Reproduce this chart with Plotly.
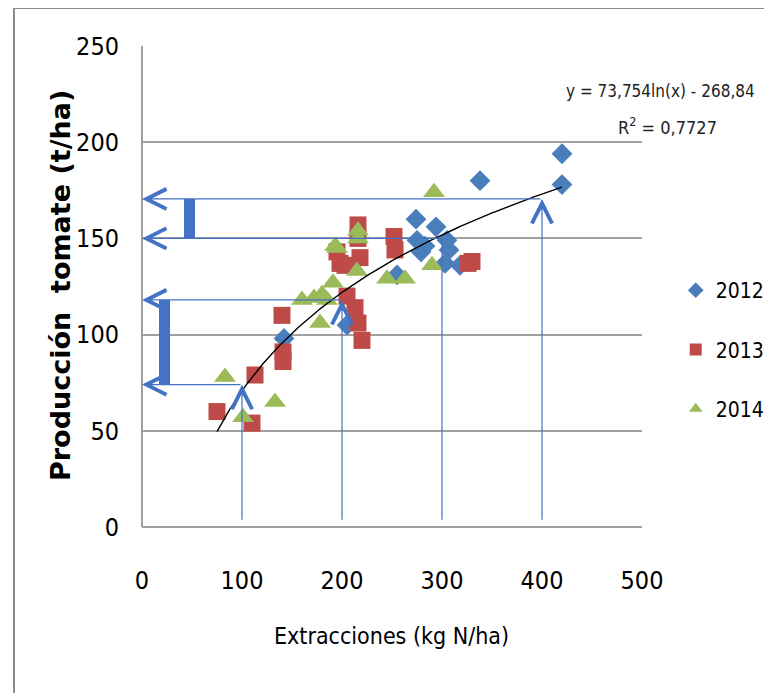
import numpy as np
import plotly.graph_objects as go

# ---------------- data ----------------
x2012 = [142, 205, 255, 274, 275, 279, 283, 294, 303, 305, 307, 318, 338, 420, 420]
y2012 = [98, 105, 131, 160, 149, 143, 146, 156, 137, 149, 144, 136, 180, 194, 178]

x2013 = [75, 110, 113, 140, 141, 141, 195, 198, 203, 216, 216, 218, 205, 213, 216, 220, 252, 253, 326, 330]
y2013 = [60, 54, 79, 110, 91, 86, 143, 137, 136, 157, 150, 140, 120, 114, 106, 97, 151, 144, 137, 138]

x2014 = [83, 101, 133, 160, 172, 180, 185, 178, 191, 193, 195, 216, 216, 215, 245, 263, 292, 290]
y2014 = [78, 57, 65, 118, 119, 121, 118, 106, 127, 146, 145, 150, 154, 133, 129, 129, 174, 136]

# logarithmic trendline y = a ln(x) + b
trend_a = 73.754
trend_b = -268.84
trend_xmin, trend_xmax = 75, 420

# reading arrows (x value -> y value on curve)
arrow_x = [100, 200, 300, 400]
arrow_y = [74, 118, 150, 170.5]
arrow_head_up = [True, True, False, True]

y_ticks = [0, 50, 100, 150, 200, 250]
x_ticks = [0, 100, 200, 300, 400, 500]

# ---------------- styles ----------------
BLUE = "#4A7EBB"
RED = "#BE4B48"
GREEN = "#9BBB59"
ARROW = "#4472C4"
GRID = "#A0A0A0"
NARROW = "Liberation Sans Narrow, DejaVu Sans Condensed, Arial Narrow, sans-serif"


def nfont(size, color="black"):
    return dict(family=NARROW, size=size, color=color)


fig = go.Figure()

fig.add_trace(go.Scatter(x=x2012, y=y2012, mode="markers", name="2012", legendgroup="a",
                         marker=dict(symbol="diamond", size=16, color=BLUE)))
fig.add_trace(go.Scatter(x=x2013, y=y2013, mode="markers", name="2013", legendgroup="b",
                         marker=dict(symbol="square", size=17, color=RED)))
fig.add_trace(go.Scatter(x=x2014, y=y2014, mode="markers", name="2014", legendgroup="c",
                         marker=dict(symbol="triangle-up", size=19, color=GREEN)))

tx = np.linspace(trend_xmin, trend_xmax, 200)
ty = trend_a * np.log(tx) + trend_b
fig.add_trace(go.Scatter(x=tx, y=ty, mode="lines", showlegend=False,
                         line=dict(color="black", width=1.4), hoverinfo="skip"))

annotations = []
shapes = []
# vertical arrows from the x axis up to the curve
for xv, yv, head in zip(arrow_x, arrow_y, arrow_head_up):
    annotations.append(dict(x=xv, y=yv, ax=xv, ay=3, xref="x", yref="y", axref="x", ayref="y",
                            text="", showarrow=True, arrowhead=5 if head else 0,
                            arrowsize=3.3, arrowwidth=1.2, arrowcolor=ARROW))
# horizontal arrows from the curve to the y axis
for xv, yv in zip(arrow_x, arrow_y):
    annotations.append(dict(x=0, y=yv, ax=xv, ay=yv, xref="x", yref="y", axref="x", ayref="y",
                            text="", showarrow=True, arrowhead=5,
                            arrowsize=3.3, arrowwidth=1.2, arrowcolor=ARROW))

# thick blue bars marking the ranges
shapes.append(dict(type="rect", xref="x", yref="y", x0=17, x1=28, y0=arrow_y[0], y1=arrow_y[1],
                   fillcolor=ARROW, line=dict(width=0)))
shapes.append(dict(type="rect", xref="x", yref="y", x0=42, x1=53, y0=arrow_y[2], y1=arrow_y[3],
                   fillcolor=ARROW, line=dict(width=0)))

# outer frame
shapes.append(dict(type="rect", xref="paper", yref="paper", x0=-0.256, x1=1.3, y0=-0.4, y1=1.079,
                   line=dict(color="#8C8C8C", width=2), fillcolor="rgba(0,0,0,0)", layer="below"))

# trendline equation
annotations.append(dict(xref="paper", yref="paper", x=1.036, y=0.906, xanchor="center", yanchor="middle",
                        showarrow=False, text="y = 73,754ln(x) - 268,84", font=nfont(17, "#222")))
annotations.append(dict(xref="paper", yref="paper", x=1.05, y=0.834, xanchor="center", yanchor="middle",
                        showarrow=False, text="R<sup>2</sup> = 0,7727", font=nfont(18, "#222")))

# axis titles
annotations.append(dict(xref="paper", yref="paper", x=-0.164, y=0.501, xanchor="center", yanchor="middle",
                        showarrow=False, textangle=-90,
                        text="Producción  tomate (t/ha)",
                        font=dict(family="DejaVu Sans, Verdana, sans-serif", size=27, color="black",
                                  weight="bold")))
annotations.append(dict(xref="paper", yref="paper", x=0.498, y=-0.227, xanchor="center", yanchor="middle",
                        showarrow=False, text="Extracciones (kg N/ha)", font=nfont(23)))

fig.update_layout(
    width=764, height=685,
    margin=dict(l=134, r=130, t=38, b=166),
    paper_bgcolor="white", plot_bgcolor="white",
    showlegend=True,
    legend=dict(xref="container", yref="container", x=0.874, y=0.6175,
                xanchor="left", yanchor="top", tracegroupgap=29,
                font=nfont(21), itemsizing="constant", bgcolor="rgba(0,0,0,0)"),
    annotations=annotations,
    shapes=shapes,
)
fig.update_xaxes(range=[0, 500], tickvals=x_ticks, showgrid=False, zeroline=True, zerolinecolor=GRID,
                 zerolinewidth=2, showline=False, ticks="", ticklabelstandoff=36,
                 tickfont=nfont(25))
fig.update_yaxes(range=[0, 250], tickvals=y_ticks, showgrid=True, gridcolor=GRID, gridwidth=2,
                 zeroline=True, zerolinecolor=GRID, zerolinewidth=2, showline=False, ticks="",
                 ticklabelstandoff=22, tickfont=nfont(25))

fig.write_html("out.html")
